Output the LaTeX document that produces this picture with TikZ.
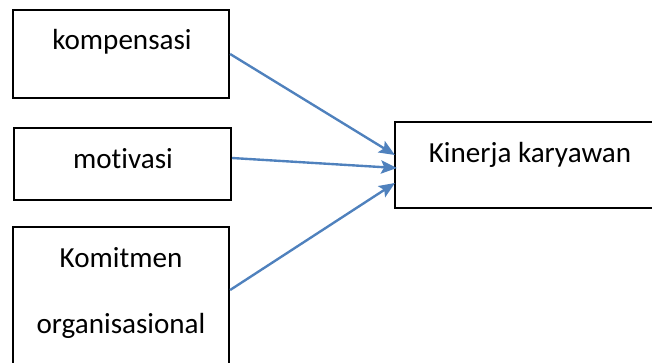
\documentclass[tikz,border=0pt]{standalone}
\usepackage{fontspec}
\setmainfont{Carlito}[Ligatures=NoCommon]
\usetikzlibrary{shapes,arrows,arrows.meta,calc}

\begin{document}
\begin{tikzpicture}
  [
  x=0.378pt, y=-0.378pt,
  box/.style = {draw=black, line width=0.8pt, inner sep=0pt},
  lbl/.style = {anchor=base, inner sep=0pt, font=\fontsize{11}{13}\selectfont},
  link/.style = {draw={rgb,255:red,79;green,129;blue,189}, line width=0.9pt,
    -{Stealth[length=6pt,width=5pt,inset=1.2pt]}}
  ]
  \useasboundingbox (0,0) rectangle (652,362);

  % boxes
  \node[box, minimum width=81.7pt, minimum height=33.3pt] (kom) at (121,54) {};
  \node[box, minimum width=82pt, minimum height=27.2pt] (mot) at (122.5,164) {};
  \node[box, minimum width=81.7pt, minimum height=56pt] (kmt) at (121,301) {};
  \node[box, draw=none, minimum width=120pt, minimum height=31.75pt] (kin) at (554.7,165) {};
  % right side of this box lies past the page
  \draw[line width=0.8pt] (kin.north east) -- (kin.north west)
    -- (kin.south west) -- (kin.south east);

  % labels
  \node[lbl] (komtxt) at (122,49) {kompensasi};
  \node[lbl] (mottxt) at (123,168) {motivasi};
  \node[lbl] (kmttxt) at (121,267) {Komitmen};
  \node[lbl] (orgtxt) at (121,333) {organisasional};
  \node[lbl] (kintxt) at (530,162) {Kinerja karyawan};

  % arrows
  \draw[link] (kom.east) -- ($(kin.west)+(0,-10)$);
  \draw[link] ($(mot.east)+(0,-6)$) -- ($(kin.west)+(2,3)$);
  \draw[link] ($(kmt.east)+(0,-11)$) -- ($(kin.west)+(0,18)$);
\end{tikzpicture}
\end{document}
